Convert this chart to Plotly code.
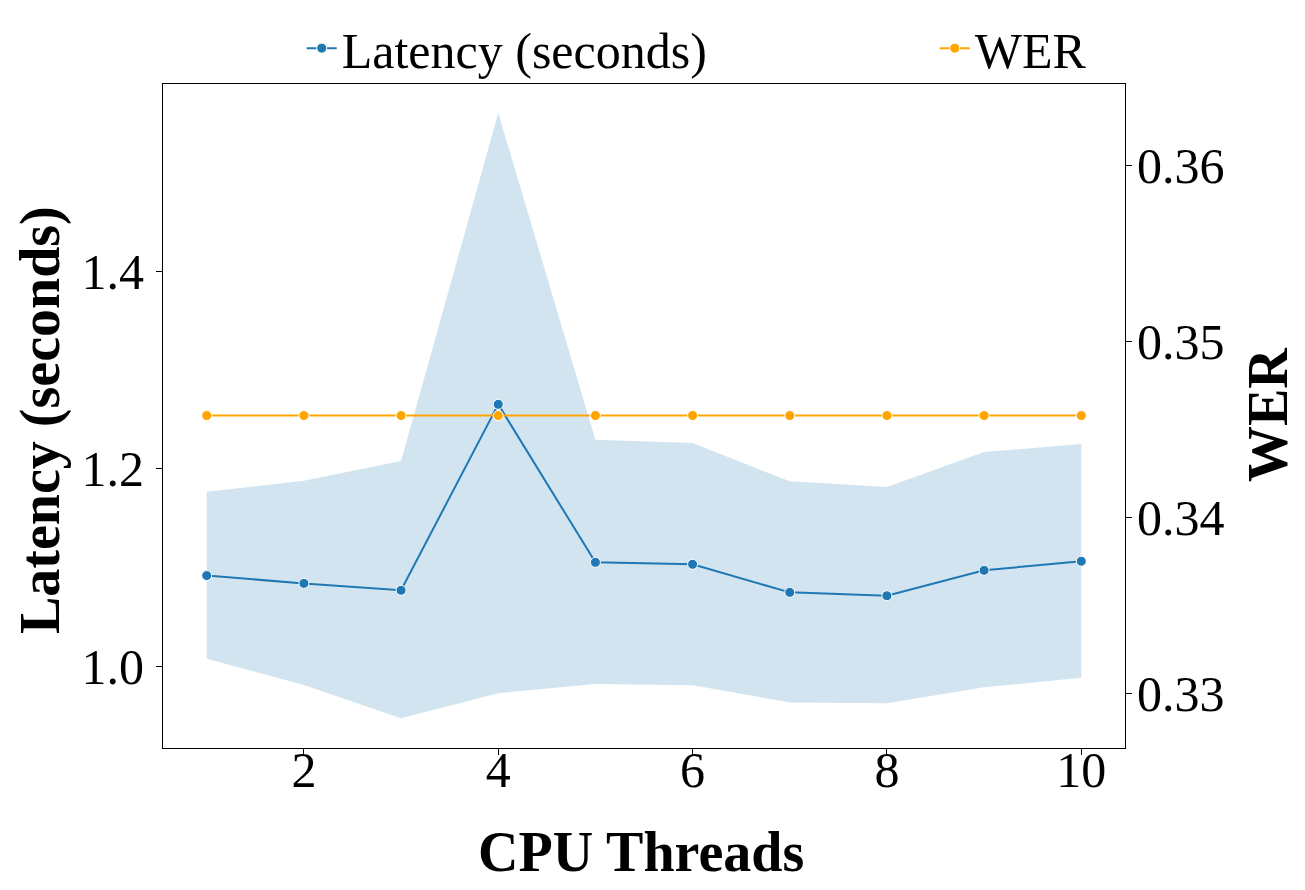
import plotly.graph_objects as go

threads = [1, 2, 3, 4, 5, 6, 7, 8, 9, 10]
latency_mean = [1.0916, 1.0837, 1.0767, 1.2650, 1.1050, 1.1030, 1.0746, 1.0712, 1.0969, 1.1061]
latency_upper = [1.1765, 1.1876, 1.2076, 1.5600, 1.2292, 1.2258, 1.1870, 1.1813, 1.2167, 1.2248]
latency_lower = [1.0074, 0.9808, 0.9470, 0.9724, 0.9818, 0.9805, 0.9632, 0.9622, 0.9784, 0.9882]
wer = [0.34579] * 10

x_ticks = [2, 4, 6, 8, 10]
y_ticks = [1.0, 1.2, 1.4]
y2_ticks = [0.33, 0.34, 0.35, 0.36]

BLUE = "#1f77b4"
ORANGE = "#ffa500"
FONT = "Liberation Serif"

fig = go.Figure()

fig.add_trace(go.Scatter(
    x=threads + threads[::-1],
    y=latency_upper + latency_lower[::-1],
    fill="toself", fillcolor="rgba(31,119,180,0.2)",
    line=dict(width=0), mode="lines", hoverinfo="skip", showlegend=False,
))
fig.add_trace(go.Scatter(
    x=threads, y=latency_mean, mode="lines+markers", name="Latency (seconds)",
    line=dict(color=BLUE, width=2), legend="legend",
    marker=dict(color=BLUE, size=10, line=dict(color="white", width=1)),
))
fig.add_trace(go.Scatter(
    x=threads, y=wer, mode="lines+markers", name="WER", yaxis="y2",
    line=dict(color=ORANGE, width=2), legend="legend2",
    marker=dict(color=ORANGE, size=10, line=dict(color="white", width=1)),
))

axis_common = dict(
    showgrid=False, zeroline=False, showline=True, linecolor="black", linewidth=1,
    ticks="outside", ticklen=6, tickwidth=1, tickcolor="black",
    tickfont=dict(family=FONT, size=50, color="black"),
)

legend_common = dict(
    orientation="h", xanchor="left", y=1.054, yanchor="middle",
    font=dict(family=FONT, size=50), bgcolor="rgba(0,0,0,0)",
)

title_font = dict(family=FONT, size=56, color="black")

fig.update_layout(
    width=1297, height=882,
    paper_bgcolor="white", plot_bgcolor="white",
    margin=dict(l=155, r=180, t=76, b=142, autoexpand=False),
    font=dict(family=FONT, color="black"),
    xaxis=dict(
        **axis_common, range=[0.55, 10.45], tickvals=x_ticks,
        ticktext=[str(v) for v in x_ticks], mirror=True, ticklabelstandoff=-28,
    ),
    yaxis=dict(
        **axis_common, range=[0.917, 1.5894], tickvals=y_ticks,
        ticktext=[f"{v:.1f}" for v in y_ticks], ticklabelstandoff=2,
    ),
    yaxis2=dict(
        **axis_common, overlaying="y", side="right", anchor="x",
        range=[0.32687, 0.36466], tickvals=y2_ticks,
        ticktext=[f"{v:.2f}" for v in y2_ticks], ticklabelstandoff=-5,
    ),
    legend=dict(**legend_common, x=0.1442),
    legend2=dict(**legend_common, x=0.8022),
    annotations=[
        dict(text="<b>CPU Threads</b>", xref="paper", yref="paper", x=0.497, y=-0.1566,
             xanchor="center", yanchor="middle", showarrow=False, font=title_font),
        dict(text="<b>Latency (seconds)</b>", xref="paper", yref="paper", x=-0.1268, y=0.494,
             xanchor="center", yanchor="middle", textangle=-90, showarrow=False, font=title_font),
        dict(text="<b>WER</b>", xref="paper", yref="paper", x=1.1487, y=0.5015,
             xanchor="center", yanchor="middle", textangle=-90, showarrow=False, font=title_font),
    ],
)

fig.write_html("out.html")
